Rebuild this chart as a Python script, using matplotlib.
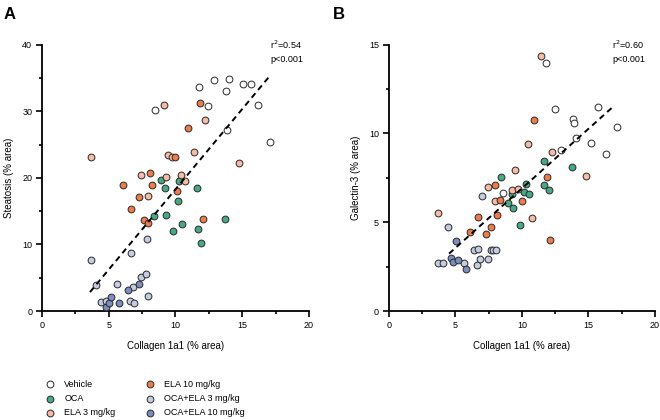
import numpy as np
import matplotlib
matplotlib.use("Agg")
import matplotlib.pyplot as plt

plt.rcParams['font.family'] = ['Liberation Sans', 'DejaVu Sans']

groups = ["Vehicle", "OCA", "ELA 3 mg/kg", "ELA 10 mg/kg", "OCA+ELA 3 mg/kg", "OCA+ELA 10 mg/kg"]
colors = ["#FFFFFF", "#46A985", "#F6BBA2", "#EE7B4B", "#C3CCE1", "#7B8DBF"]

# Panel A : collagen 1a1 vs steatosis
a_x = [
    [8.5, 11.8, 12.45, 12.9, 13.8, 13.9, 14.05, 15.1, 15.65, 16.2, 17.1],
    [8.36, 8.94, 9.21, 9.29, 9.79, 10.21, 10.29, 10.49, 11.64, 11.66, 11.94, 13.73],
    [3.7, 7.42, 7.94, 9.16, 9.29, 9.44, 9.71, 10.44, 10.74, 11.41, 12.23, 14.73],
    [6.04, 6.69, 7.24, 7.62, 7.94, 8.06, 8.26, 9.94, 10.11, 10.91, 11.86, 12.06],
    [3.65, 4.04, 4.39, 4.79, 5.59, 6.59, 6.67, 6.84, 6.92, 7.42, 7.77, 7.87, 7.97],
    [4.79, 5.04, 5.17, 5.79, 6.47, 7.29],
]
a_y = [
    [30.2, 33.7, 30.8, 34.7, 33.1, 27.15, 34.9, 34.1, 34.15, 31.0, 25.35],
    [14.2, 19.65, 18.5, 14.35, 11.95, 16.45, 19.5, 13.1, 18.5, 12.35, 10.25, 13.75],
    [23.2, 20.5, 17.3, 30.9, 20.15, 23.4, 23.1, 20.4, 19.6, 23.9, 28.65, 22.2],
    [18.95, 15.35, 17.1, 13.7, 13.25, 20.8, 18.95, 23.15, 18.05, 27.55, 31.2, 13.8],
    [7.66, 3.9, 1.35, 1.55, 4.1, 1.55, 8.75, 3.65, 1.25, 5.1, 5.5, 10.75, 2.3],
    [0.65, 1.15, 2.05, 1.15, 3.15, 4.0],
]

# Panel B : collagen 1a1 vs galectin-3
b_x = [
    [8.55, 11.84, 12.47, 12.97, 13.87, 13.94, 14.07, 15.22, 15.69, 16.3, 17.17],
    [8.41, 8.94, 9.24, 9.34, 9.84, 10.16, 10.31, 10.54, 11.64, 11.66, 12.02, 13.77],
    [3.73, 7.43, 7.96, 9.29, 9.49, 9.71, 10.49, 10.74, 11.44, 12.27, 14.82],
    [6.08, 6.71, 7.31, 7.69, 7.97, 8.1, 8.35, 9.98, 10.94, 11.91, 12.12],
    [3.72, 4.1, 4.42, 5.65, 6.42, 6.6, 6.7, 6.85, 6.97, 7.45, 7.67, 7.85, 8.02],
    [4.68, 4.81, 5.06, 5.21, 5.81],
]
b_y = [
    [6.62, 13.95, 11.4, 9.09, 10.82, 10.6, 9.77, 9.45, 11.49, 8.85, 10.39],
    [7.52, 6.08, 6.6, 5.78, 4.86, 6.71, 7.14, 6.6, 7.09, 8.46, 6.84, 8.12],
    [5.51, 6.99, 6.19, 6.84, 7.97, 6.86, 9.38, 5.25, 14.38, 8.96, 7.58],
    [4.46, 5.29, 4.35, 4.72, 7.12, 5.4, 6.28, 6.19, 10.74, 7.52, 4.01],
    [2.68, 2.68, 4.72, 2.72, 3.41, 2.6, 3.47, 2.94, 6.45, 2.94, 3.43, 3.43, 3.43],
    [2.98, 2.74, 3.96, 2.89, 2.36],
]

# regression lines (slope, intercept, x range)
fit_a = (2.41, -5.83, 3.6, 17.13)
fit_b = (0.6715, 0.188, 4.53, 16.92)

fig = plt.figure(figsize=(6.6, 4.2), dpi=100)
ax_a = fig.add_axes([0.0636, 0.2595, 0.4044, 0.6341])
ax_b = fig.add_axes([0.589, 0.2595, 0.4034, 0.6341])


def style_axis(ax, ymax, ymajor, ylabel):
    ax.set_xlim(0, 20)
    ax.set_ylim(0, ymax)
    ax.set_xticks(np.arange(0, 21, 5))
    ax.set_xticks(np.arange(0, 21, 2.5), minor=True)
    ax.set_yticks(np.arange(0, ymax + 0.1, ymajor))
    ax.set_yticks(np.arange(0, ymax + 0.1, ymajor / 2), minor=True)
    for s in ["top", "right"]:
        ax.spines[s].set_visible(False)
    for s in ["left", "bottom"]:
        ax.spines[s].set_linewidth(1.3)
    ax.tick_params(which="major", length=4, width=1.2, labelsize=6.5, pad=3)
    ax.tick_params(which="minor", length=2.5, width=1.2)
    ax.set_xlabel("Collagen 1a1 (% area)", fontsize=7, labelpad=8)
    ax.set_ylabel(ylabel, fontsize=7, labelpad=6)


handles = []
for ax, xs, ys, fit in [(ax_a, a_x, a_y, fit_a), (ax_b, b_x, b_y, fit_b)]:
    for i in range(len(groups)):
        h = ax.scatter(xs[i], ys[i], s=24, c=colors[i], edgecolors="#2a2a2a",
                       linewidths=0.7, zorder=3, clip_on=False, label=groups[i])
        if ax is ax_a:
            handles.append(h)
    xl = np.array([fit[2], fit[3]])
    ax.plot(xl, fit[0] * xl + fit[1], color="black", linestyle=(0, (3, 2.2)),
            linewidth=1.4, zorder=4)

style_axis(ax_a, 40, 10, "Steatosis (% area)")
style_axis(ax_b, 15, 5, "Galectin-3 (% area)")

ax_a.text(0.855, 0.985, "r$^2$=0.54", transform=ax_a.transAxes, fontsize=6.5)
ax_a.text(0.855, 0.935, "p<0.001", transform=ax_a.transAxes, fontsize=6.5)
ax_b.text(0.84, 0.985, "r$^2$=0.60", transform=ax_b.transAxes, fontsize=6.5)
ax_b.text(0.84, 0.935, "p<0.001", transform=ax_b.transAxes, fontsize=6.5)

fig.text(0.005, 0.955, "A", fontsize=12, fontweight="bold")
fig.text(0.505, 0.955, "B", fontsize=12, fontweight="bold")

fig.legend(handles=handles, labels=groups, ncol=2, loc="upper left",
           bbox_to_anchor=(0.062, 0.105), frameon=False, fontsize=6.5,
           handletextpad=1.0, columnspacing=3.2, labelspacing=0.6,
           scatterpoints=1, borderaxespad=0, handlelength=1.2)

fig.savefig("out.png", dpi=100)
